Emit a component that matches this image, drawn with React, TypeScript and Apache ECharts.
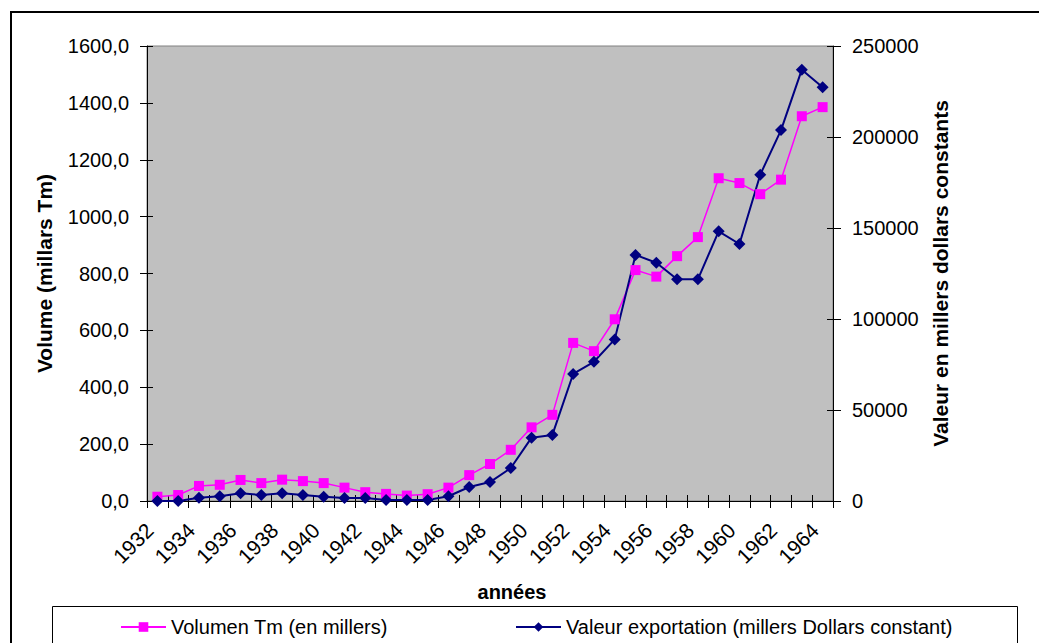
import React, { useEffect, useRef } from 'react';
import * as echarts from 'echarts';

const FONT = '"Liberation Sans", Arial, sans-serif';

const years = ['1932', '1933', '1934', '1935', '1936', '1937', '1938', '1939', '1940', '1941', '1942',
  '1943', '1944', '1945', '1946', '1947', '1948', '1949', '1950', '1951', '1952', '1953', '1954',
  '1955', '1956', '1957', '1958', '1959', '1960', '1961', '1962', '1963', '1964'];

const volumeName = 'Volumen Tm (en millers)';
const valueName = 'Valeur exportation (millers Dollars constant)';

const volume = [15, 21, 53, 57, 74, 63, 75, 70, 63, 47, 31, 25, 19, 24, 47, 91, 130, 180, 259, 303,
  556, 527, 639, 812, 789, 861, 928, 1135, 1118, 1079, 1130, 1353, 1385];

const exportValue = [0, 0, 1800, 2600, 4200, 3300, 4200, 3300, 2400, 1600, 1600, 550, 550, 550, 2600,
  7700, 10400, 18100, 34800, 36300, 69800, 76500, 88800, 135200, 130900, 121800, 121800, 148200,
  141200, 179300, 203800, 237000, 227300];

const leftAxisTitle = 'Volume (millars Tm)';
const rightAxisTitle = 'Valeur en millers dollars constants';
const xAxisTitle = 'années';

export default function App() {
  const ref = useRef<HTMLDivElement>(null);

  useEffect(() => {
    const chart = echarts.init(ref.current!, null, { renderer: 'svg' });
    const labelStyle = { color: '#000', fontSize: 20, fontFamily: FONT };
    const nameStyle = { color: '#000', fontSize: 21, fontWeight: 'bold' as const, fontFamily: FONT };
    chart.setOption({
      animation: false,
      backgroundColor: '#fff',
      textStyle: { fontFamily: FONT },
      grid: {
        left: 147, top: 46, width: 686, height: 455,
        show: true, backgroundColor: '#C0C0C0', borderColor: '#808080', borderWidth: 1,
      },
      xAxis: [
        {
          type: 'category', data: years, boundaryGap: true, position: 'bottom',
          axisLine: { show: true, lineStyle: { color: '#000', width: 1 } },
          axisTick: { show: true, interval: 0, length: 7, lineStyle: { color: '#000' } },
          axisLabel: { ...labelStyle, fontSize: 21, interval: 1, rotate: 45, margin: 18, padding: [0, 11, 0, 0] },
          splitLine: { show: false },
        },
        {
          type: 'category', data: years, boundaryGap: true, position: 'bottom',
          axisLine: { show: false },
          axisTick: { show: true, inside: true, interval: 0, length: 6, lineStyle: { color: '#000' } },
          axisLabel: { show: false },
          splitLine: { show: false },
        },
      ],
      yAxis: [
        {
          type: 'value', min: 0, max: 1600, interval: 200, position: 'left',
          name: leftAxisTitle, nameLocation: 'middle', nameGap: 92, nameRotate: 90,
          nameTextStyle: nameStyle,
          axisLine: { show: true, lineStyle: { color: '#000', width: 1 } },
          axisTick: { show: true, length: 7, lineStyle: { color: '#000' } },
          axisLabel: { ...labelStyle, margin: 18, formatter: (v: number) => v.toFixed(1).replace('.', ',') },
          splitLine: { show: false },
        },
        {
          type: 'value', min: 0, max: 250000, interval: 50000, position: 'right',
          name: rightAxisTitle, nameLocation: 'middle', nameGap: 91, nameRotate: 90,
          nameTextStyle: nameStyle,
          axisLine: { show: true, lineStyle: { color: '#000', width: 1 } },
          axisTick: { show: true, length: 8, lineStyle: { color: '#000' } },
          axisLabel: { ...labelStyle, margin: 19, formatter: (v: number) => String(v) },
          splitLine: { show: false },
        },
        {
          type: 'value', min: 0, max: 1600, interval: 200, position: 'left',
          axisLine: { show: false },
          axisTick: { show: true, inside: true, length: 6, lineStyle: { color: '#000' } },
          axisLabel: { show: false },
          splitLine: { show: false },
        },
        {
          type: 'value', min: 0, max: 250000, interval: 50000, position: 'right',
          axisLine: { show: false },
          axisTick: { show: true, inside: true, length: 6, lineStyle: { color: '#000' } },
          axisLabel: { show: false },
          splitLine: { show: false },
        },
      ],
      legend: [
        {
          data: [volumeName], left: 115, top: 612, itemWidth: 45, itemHeight: 12,
          textStyle: { ...labelStyle }, selectedMode: false,
        },
        {
          data: [valueName], left: 510, top: 612, itemWidth: 45, itemHeight: 12,
          textStyle: { ...labelStyle }, selectedMode: false,
        },
      ],
      graphic: [
        {
          type: 'rect', silent: true, z: -10,
          shape: { x: 11, y: 12, width: 1060, height: 700 },
          style: { fill: 'none', stroke: '#000', lineWidth: 2 },
        },
        {
          type: 'rect', silent: true, z: -10,
          shape: { x: 52.5, y: 606.5, width: 965, height: 80 },
          style: { fill: 'none', stroke: '#000', lineWidth: 1 },
        },
        {
          type: 'text', silent: true, x: 512, y: 592,
          style: {
            text: xAxisTitle, font: 'bold 20px "Liberation Sans", Arial, sans-serif',
            fill: '#000', align: 'center', verticalAlign: 'middle',
          },
        },
      ],
      series: [
        {
          name: volumeName, type: 'line', xAxisIndex: 0, yAxisIndex: 0, data: volume,
          symbol: 'rect', symbolSize: 10,
          lineStyle: { color: '#FF00FF', width: 1.5 },
          itemStyle: { color: '#FF00FF' },
        },
        {
          name: valueName, type: 'line', xAxisIndex: 0, yAxisIndex: 1, data: exportValue,
          symbol: 'diamond', symbolSize: 12,
          lineStyle: { color: '#000080', width: 2 },
          itemStyle: { color: '#000080' },
        },
      ],
    });
    return () => chart.dispose();
  }, []);

  return (
    <div
      ref={ref}
      style={{ position: 'fixed', left: 0, top: 0, width: 1039, height: 643, background: '#fff' }}
    />
  );
}
